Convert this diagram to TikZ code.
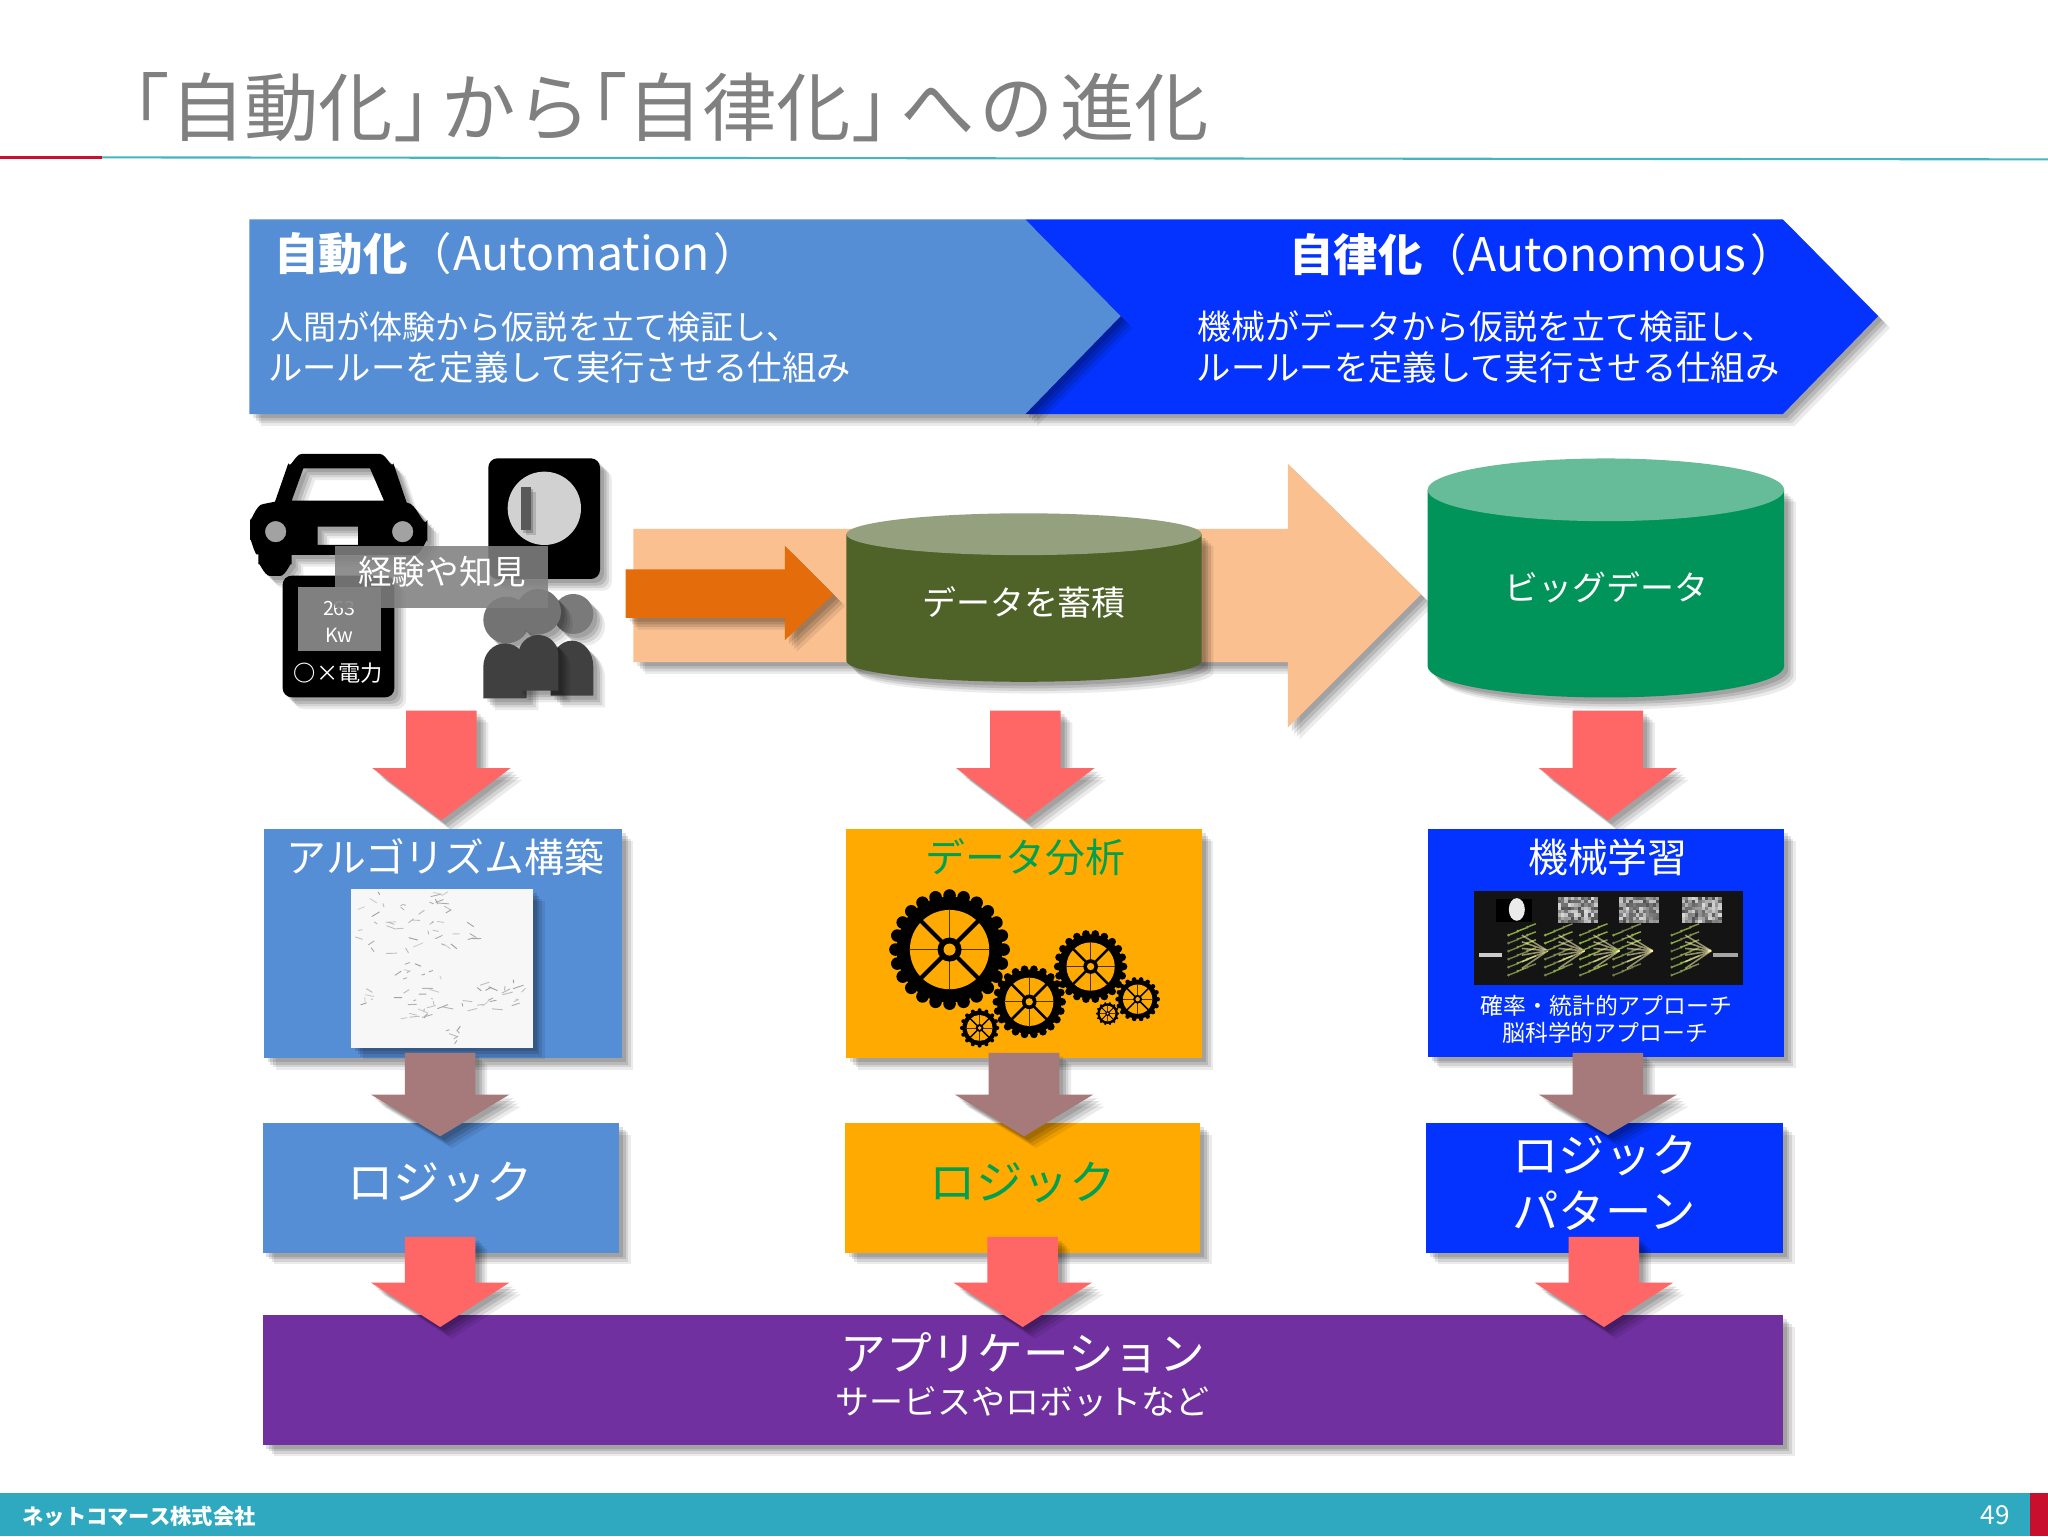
\documentclass[tikz,border=0pt]{standalone}
\usepackage{fontspec}
\setmainfont{Noto Sans CJK JP}
\newcommand\fsz[1]{\fontsize{#1}{#1}\selectfont}
\definecolor{cblue}{HTML}{558ED5}
\definecolor{cdeep}{HTML}{0433FF}
\definecolor{corange}{HTML}{FFAA00}
\definecolor{cgreen}{HTML}{00A050}
\definecolor{cpurple}{HTML}{7030A0}
\definecolor{cred}{HTML}{FF6666}
\definecolor{cbrown}{HTML}{A67A7A}
\definecolor{cpeach}{HTML}{FAC090}
\definecolor{cdorange}{HTML}{E46C0A}
\definecolor{cfoot}{HTML}{2FA9BF}
\definecolor{colive}{HTML}{4F6228}
\definecolor{colivet}{HTML}{95A17E}
\definecolor{cemer}{HTML}{00945A}
\definecolor{cemert}{HTML}{66BB99}
\definecolor{cline}{HTML}{45B5C0}
\definecolor{credl}{HTML}{C8102E}
\tikzset{
 softsh/.style={
  preaction={fill=black,opacity=.08,transform canvas={shift={(9pt,-9pt)}}},
  preaction={fill=black,opacity=.10,transform canvas={shift={(7pt,-7pt)}}},
  preaction={fill=black,opacity=.12,transform canvas={shift={(5pt,-5pt)}}},
  preaction={fill=black,opacity=.12,transform canvas={shift={(3pt,-3pt)}}}},
 smallsh/.style={
  preaction={fill=black,opacity=.15,transform canvas={shift={(4pt,-4pt)}}},
  preaction={fill=black,opacity=.2,transform canvas={shift={(2pt,-2pt)}}}},
 wtext/.style={text=white,inner sep=0pt,font=\fsz{26}},
 lefttext/.style={wtext,anchor=west},
}
\newcommand\dnarrow[5]{\path[softsh,fill=#5] (#1-27,#2)--(#1+27,#2)--(#1+27,#3)--(#1+53,#3)--(#1,#4)--(#1-53,#3)--(#1-27,#3)--cycle;}
\newcommand\gearic[4]{%
 \begin{scope}[shift={(#1,#2)}]
  \foreach \a in {1,...,#4}{\fill[black] ({360*\a/#4}:{#3*.9}) circle[radius={#3*.105}];}
  \fill[black] (0,0) circle[radius={#3*.88}];
  \fill[corange] (0,0) circle[radius={#3*.66}];
  \foreach \a in {0,90,180,270}{\draw[black!70!corange,line width={#3*.02pt}] (0,0)--(\a:{#3*.68});}
  \foreach \a in {45,135,225,315}{\draw[black,line width={#3*.07pt}] (0,0)--(\a:{#3*.68});}
  \fill[black] (0,0) circle[radius={#3*.2}];
  \fill[corange] (0,0) circle[radius={#3*.1}];
 \end{scope}}
% scattered short pen strokes: x y w h count
\newcommand\penscatter[5]{%
 \foreach \i in {1,...,#5}{
  \pgfmathsetmacro\rx{#1+rnd*#3}\pgfmathsetmacro\ry{#2+rnd*#4}
  \pgfmathsetmacro\rdx{(rnd-.5)*16}\pgfmathsetmacro\rdy{(rnd-.5)*7}
  \pgfmathtruncatemacro\rs{18+rnd*22}
  \draw[black!\rs,line width=.7pt,line cap=round] (\rx,\ry)--++(\rdx,\rdy);
 }}
% textured tile for the network picture: x y
\newcommand\tile[2]{%
 \foreach \i in {0,...,11}{\foreach \j in {0,...,7}{
  \pgfmathtruncatemacro\rs{15+rnd*55}
  \fill[black!\rs] ({#1+\i*10},{#2+\j*10}) rectangle ++(10,10);
 }}}
% lattice group of the network picture: x
\newcommand\lattice[1]{%
 \foreach \k in {0,1,2}{\foreach \m in {0,...,5}{
  \pgfmathtruncatemacro\rs{45+rnd*35}
  \fill[yellow!60!green!\rs!black] ({#1+\k*28},{345+\m*24-\k*12}) circle[radius=4.5];
  \draw[yellow!60!green!\rs!black,line width=1.1pt] ({#1+\k*28},{345+\m*24-\k*12})--++(26,-10);
 }}
 \foreach \m in {0,...,5}{\draw[white!70!yellow,line width=1.2pt,opacity=.55] ({#1+40},{345+\m*20})--({#1+118},392);}
}
\begin{document}
\begin{tikzpicture}[x=1pt,y=-1pt]
\pgfmathsetseed{4711}
\useasboundingbox (0,0) rectangle (1568,1176);
\fill[white] (0,0) rectangle (1568,1176);
% title
\node[anchor=west,inner sep=0pt,text=black!50,font=\fsz{57}] (title) at (73,82) {「自動化」\hspace{-20pt}から\hspace{-28.5pt}「自律化」\hspace{-19pt}へ\kern3pt の\kern5pt 進化};
\draw[cline,line width=1.6pt] (78,120.5)--(1568,122);
\draw[credl,line width=1.8pt] (0,120.5)--(78,120.5);
% header arrows
\path[softsh,fill=cdeep] (785,168)--(1365,168)--(1438,242)--(1365,317)--(785,317)--cycle;
\path[softsh,fill=cblue] (191,168)--(785,168)--(858,242)--(785,317)--(191,317)--cycle;
\node[lefttext,font=\fsz{34}] (h1) at (210,194) {\textbf{自動化}（{\fsz{35.5}\kern1pt Automation\kern3pt}）};
\node[lefttext,font=\fsz{25.3}] (h1a) at (207,250) {人間が体験から仮説を立て検証し、};
\node[lefttext,font=\fsz{26.3}] (h1b) at (205,281) {ルールーを定義して実行させる仕組み};
\node[lefttext,font=\fsz{34}] (h2) at (987,195) {\textbf{自律化}（{\fsz{35.5}\kern1pt Autonomous\kern3pt}）};
\node[lefttext,font=\fsz{26}] (h2a) at (917,250) {機械がデータから仮説を立て検証し、};
\node[lefttext,font=\fsz{26.3}] (h2b) at (916,281) {ルールーを定義して実行させる仕組み};
% icons
\begin{scope}[shift={(176.1,329.2)},x=.2552pt,y=-.2552pt]
 % car
 \path[softsh,fill=black,even odd rule]
  (135,215)--(175,100) to[out=-70,in=180] (215,72)--(450,72) to[out=0,in=-110] (490,100)--(530,218)
  to[out=0,in=-110] (592,270)--(592,335) to[out=90,in=0] (555,375)--(185,375)--(185,405)
  to[out=90,in=0] (150,438)--(120,438) to[out=180,in=90] (85,405)--(85,372)
  to[out=-120,in=90] (60,330)--(60,265) to[out=-90,in=180] (100,222)--cycle
  (185,212)--(462,212)--(420,115)--(220,115)--cycle
  (137,305) circle[radius=32] (518,305) circle[radius=32]
  (263,290) rectangle (384,345);
 % key switch
 \path[softsh,fill=black,rounded corners=7pt] (775,85) rectangle (1110,447);
 \fill[black!18] (943,235) circle[radius=110];
 \path[smallsh,fill=black!65] (872,170) rectangle (902,300);
 % meter
 \path[softsh,fill=black,rounded corners=7pt] (158,437) rectangle (493,802);
 \fill[black!50] (205,470) rectangle (453,662);
 \node[wtext,font=\fsz{15}] (m1) at (328,535) {263};
 \node[wtext,font=\fsz{15}] (m2) at (328,615) {Kw};
 \node[wtext,font=\fsz{17}] (m3) at (325,730) {\textbf{○}×電力};
 % people
 \path[softsh,fill=black!52] (1030,552) circle[radius=60];
 \path[softsh,fill=black!75] (962,797)--(962,710) arc[start angle=180,end angle=360,x radius=64,y radius=78]--(1090,797)--cycle;
 \path[softsh,fill=black!55] (830,570) circle[radius=70];
 \path[softsh,fill=black!55] (925,545) circle[radius=68];
 \path[softsh,fill=black!75] (760,805)--(760,710) arc[start angle=180,end angle=360,x radius=65,y radius=70]--(890,805)--cycle;
 \path[softsh,fill=black!75] (865,782)--(865,675) arc[start angle=180,end angle=360,x radius=60,y radius=60]--(985,782)--cycle;
 % overlay
 \fill[black!50,opacity=.88] (315,348) rectangle (955,535);
 \node[wtext,font=\fsz{25.7}] (exp) at (637,425) {経験や知見};
\end{scope}
% data arrows and cylinders
\path[softsh,fill=cpeach] (485,405)--(986,405)--(986,355)--(1088,455)--(986,557)--(986,507)--(485,507)--cycle;
\path[softsh,fill=cdorange] (479,436)--(601,436)--(601,418)--(638,455)--(601,490)--(601,473)--(479,473)--cycle;
\path[softsh,fill=colive] (648,409)--(648,506) arc[start angle=180,end angle=0,x radius=136,y radius=16]--(920,409)--cycle;
\fill[colivet] (784,409) ellipse[x radius=136,y radius=16];
\node[wtext] (d1) at (784,461) {データを蓄積};
\path[softsh,fill=cemer] (1093,375)--(1093,510) arc[start angle=180,end angle=0,x radius=136.5,y radius=24]--(1366,375)--cycle;
\fill[cemert] (1229.5,375) ellipse[x radius=136.5,y radius=24];
\node[wtext] (d2) at (1230,450) {ビッグデータ};
% red arrows upper
\dnarrow{338}{544}{588}{628}{cred}
\dnarrow{785}{544}{588}{628}{cred}
\dnarrow{1231}{544}{588}{628}{cred}
% method boxes
\path[softsh,fill=cblue] (202,635) rectangle (476,810);
\node[wtext,font=\fsz{30.5}] (t1) at (341,656) {アルゴリズム構築};
\path[softsh,fill=black!3] (269,681) rectangle (408,802);
\begin{scope}[shift={(269,681)}]
 \penscatter{4}{3}{70}{24}{26}
 \penscatter{82}{25}{12}{14}{5}
 \penscatter{8}{30}{70}{22}{16}
 \penscatter{32}{55}{38}{14}{10}
 \penscatter{38}{72}{26}{28}{18}
 \penscatter{60}{84}{48}{8}{9}
 \penscatter{98}{70}{34}{22}{14}
 \penscatter{8}{76}{10}{12}{5}
 \penscatter{74}{100}{10}{18}{6}
\end{scope}
\path[softsh,fill=corange] (648,635) rectangle (920,810);
\node[inner sep=0pt,text=cgreen,font=\fsz{30.5}] (t2) at (785,656.5) {データ分析};
\gearic{727}{727}{46}{24}
\gearic{788}{767}{28}{22}
\gearic{835}{740}{28}{22}
\gearic{871}{765}{17}{18}
\gearic{848}{776}{9}{14}
\gearic{750}{787}{15}{16}
\path[softsh,fill=cdeep] (1093,635) rectangle (1366,809);
\node[wtext,font=\fsz{30.5}] (t3) at (1231,656) {機械学習};
\begin{scope}[shift={(1087.3,627.9)},x=.2552pt,y=-.2552pt]
 \fill[black!92] (162,213) rectangle (970,495);
 \fill[black] (228,237) rectangle (335,305);
 \fill[black!8] (290,268) ellipse[x radius=24,y radius=34];
 \tile{413}{230}
 \tile{598}{230}
 \tile{785}{230}
 \lattice{265}
 \lattice{375}
 \lattice{480}
 \lattice{580}
 \lattice{755}
 \fill[black!20] (175,398) rectangle (245,410);
 \fill[black!35] (880,398) rectangle (955,410);
\end{scope}
\node[wtext,font=\fsz{17.5}] (t3a) at (1230,770) {確率・統計的アプローチ};
\node[wtext,font=\fsz{17.5}] (t3b) at (1229,791) {脳科学的アプローチ};
% logic boxes
\path[softsh,fill=cblue] (201,860) rectangle (474,959);
\node[wtext,font=\fsz{35.5}] (l1) at (337,905.5) {ロジック};
\path[softsh,fill=corange] (647,860) rectangle (919,959);
\node[inner sep=0pt,text=cgreen,font=\fsz{35.5}] (l2) at (783,905.5) {ロジック};
\path[softsh,fill=cdeep] (1092,860) rectangle (1365,959);
\node[wtext,font=\fsz{35.5}] (l3) at (1229,885) {ロジック};
\node[wtext,font=\fsz{35.5}] (l4) at (1228,927) {パターン};
% brown arrows
\dnarrow{337}{806}{838}{870}{cbrown}
\dnarrow{784}{806}{838}{870}{cbrown}
\dnarrow{1231}{806}{838}{869}{cbrown}
% application
\path[softsh,fill=cpurple] (201,1007) rectangle (1365,1106);
\dnarrow{337}{947}{982}{1016}{cred}
\dnarrow{783}{947}{982}{1016}{cred}
\dnarrow{1228}{947}{982}{1016}{cred}
\node[wtext,font=\fsz{35}] (a1) at (783,1036) {アプリケーション};
\node[wtext] (a2) at (783,1073) {サービスやロボットなど};
% footer
\fill[cfoot] (0,1143) rectangle (1568,1176);
\fill[credl] (1554,1143) rectangle (1568,1176);
\node[lefttext,font=\bfseries\fsz{16.3}] (co) at (17,1161) {ネットコマース株式会社};
\node[wtext,anchor=east,font=\fsz{20}] (pg) at (1539,1160) {49};
\end{tikzpicture}
\end{document}
